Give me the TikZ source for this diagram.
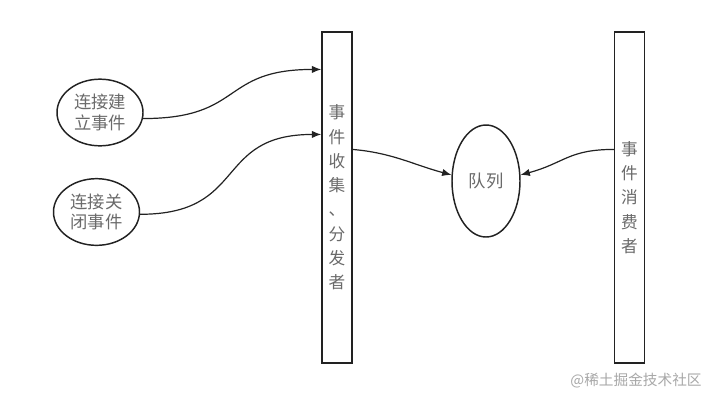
\documentclass[tikz,border=0pt]{standalone}
\usepackage{xcolor}
\usepackage{fontspec}
\usepackage{tikz}
\usetikzlibrary{shapes.geometric,arrows.meta,calc}
\newfontfamily\cjk{Noto Sans CJK SC}
\definecolor{LineGray}{HTML}{222222}
\definecolor{TextGray}{HTML}{6A6A6A}
\definecolor{MarkGray}{HTML}{A8A8A8}
\tikzset{
  % Tall bar
  BAR/.style={rectangle,draw=LineGray,line width=1.1pt,
              minimum width=22.5pt,minimum height=248pt,
              inner sep=0pt,text=TextGray,text width=14pt,align=center,
              font=\cjk\fontsize{12.5}{18.2}\selectfont},
  % Event ellipse
  EV/.style={ellipse,draw=LineGray,line width=1.1pt,
             minimum width=64.5pt,minimum height=50pt,
             inner sep=0pt,text=TextGray,align=center,
             font=\cjk\fontsize{13}{15.5}\selectfont},
  % Arrow
  arr/.style={-{Latex[length=7pt,width=5.5pt]},line width=0.9pt,draw=LineGray}
}
\begin{document}
\begin{tikzpicture}[x=0.75pt,y=-0.75pt]
  \useasboundingbox[fill=white] (0,0) rectangle (717,401);

  \node[BAR] (collector) at (337,197.5) {事\\件\\收\\集\\、\\分\\发\\者};
  \node[BAR] (consumer)  at (629.5,197.5) {事\\件\\消\\费\\者};
  \node[EV]  (openEv)    at (100,112.5) {连接建\\立事件};
  \node[EV]  (closeEv)   at (96.5,212)  {连接关\\闭事件};
  \node[EV,minimum width=51pt,minimum height=84pt] (queue) at (486,181) {队列};

  \draw[arr] (openEv.-8)  to[out=0,in=180,looseness=1.4] ($(collector.north west)+(0,38)$);
  \draw[arr] (closeEv.-3) to[out=0,in=180,looseness=1.4] ($(collector.north west)+(0,103)$);
  \draw[arr] ($(collector.north east)+(0,118)$) to[out=-5,in=165] (queue.170);
  \draw[arr] ($(consumer.north west)+(0,118)$)  to[out=180,in=15,looseness=1.2] (queue.10);

  \node[text=MarkGray,font=\cjk\fontsize{11}{13}\selectfont] (mark) at (636,381) {@稀土掘金技术社区};
\end{tikzpicture}
\end{document}
